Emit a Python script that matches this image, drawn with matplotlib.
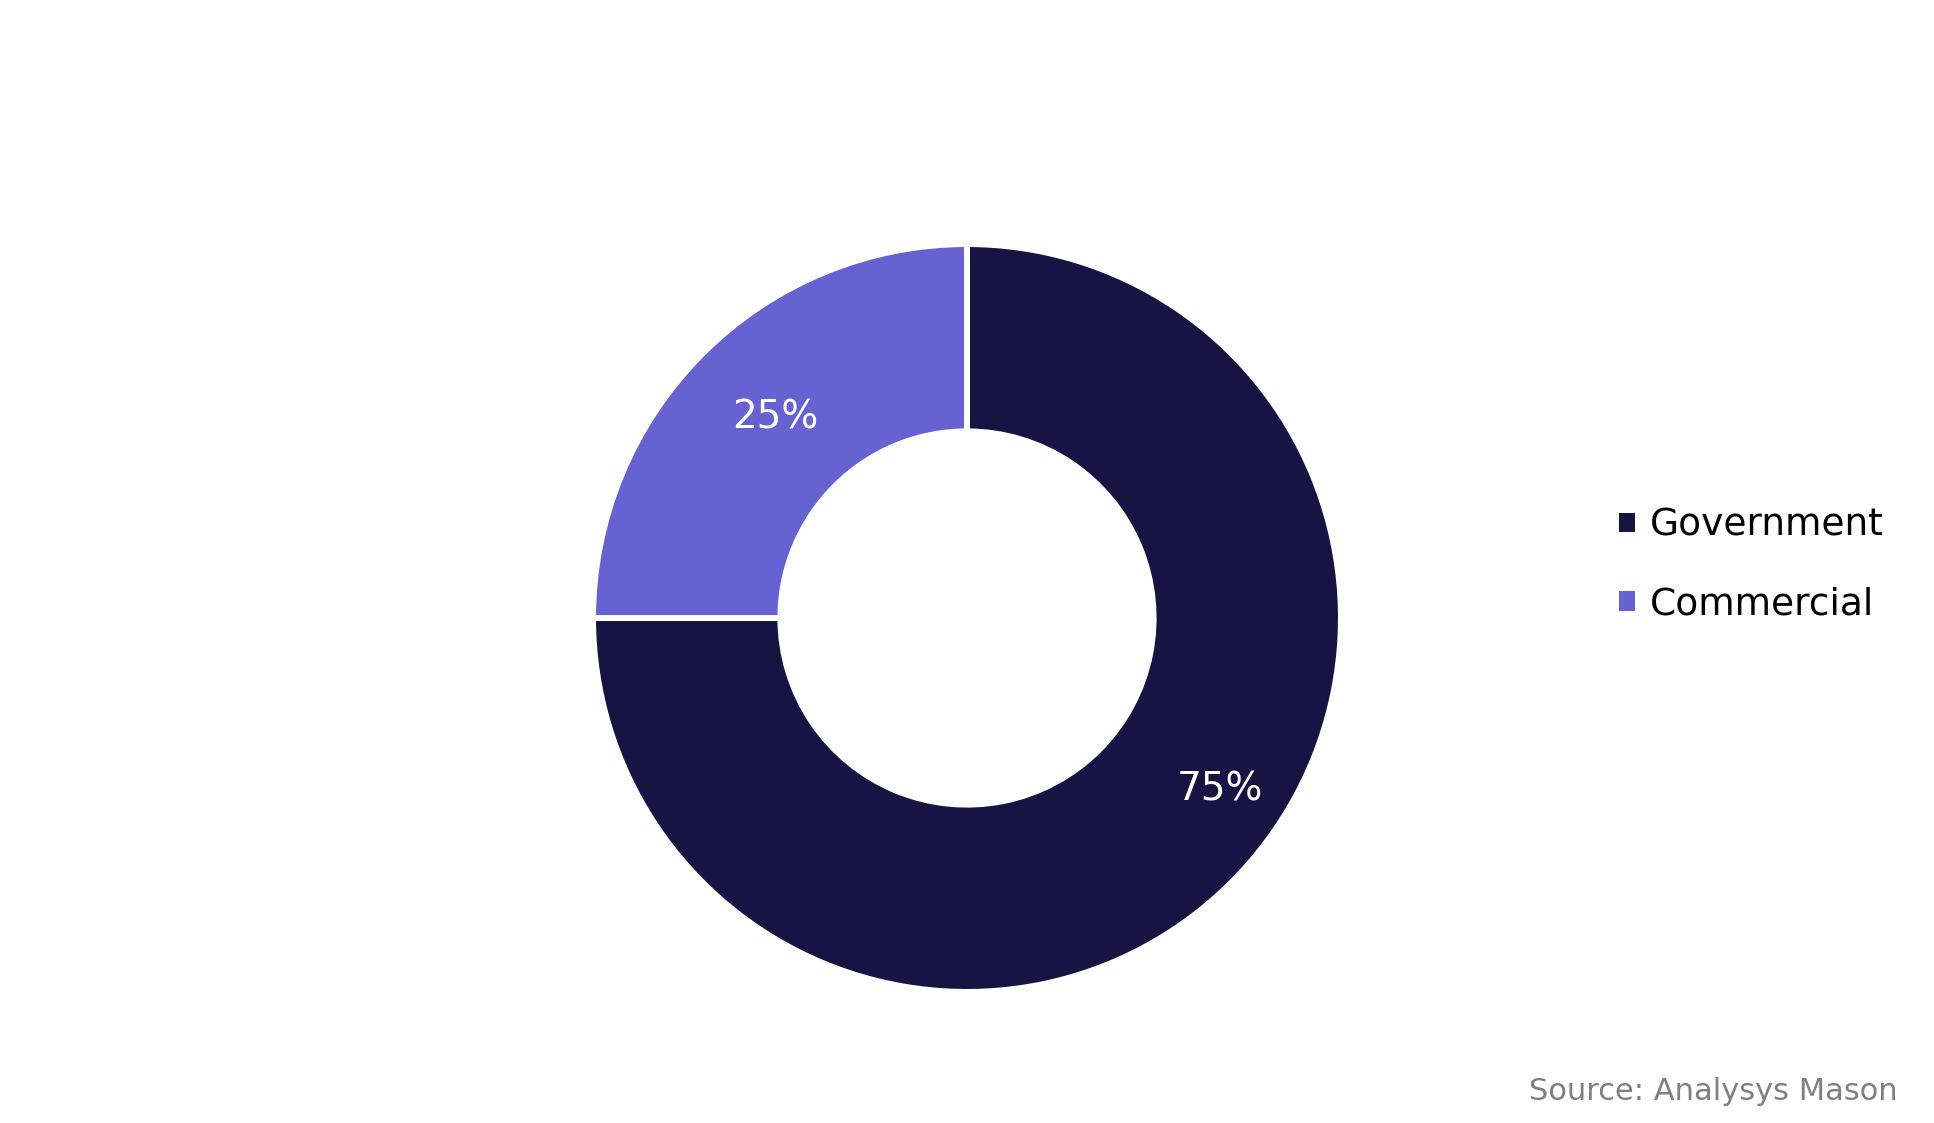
import numpy as np
import matplotlib
matplotlib.use('Agg')
import matplotlib.pyplot as plt
from matplotlib.patches import Patch

plt.rcParams['font.family'] = ['DejaVu Sans']

segments = ['Government', 'Commercial']
shares = [75, 25]
colours = ['#161443', '#6762D2']
# label placement (angle in degrees, radius as fraction of outer radius)
label_angles = [-34.1, 133.7]
label_radii = [0.824, 0.749]

fig = plt.figure(figsize=(19.34, 11.23), dpi=100)
ax = fig.add_axes([596 / 1934, 134 / 1123, 742 / 1934, 742 / 1123])

ax.pie(shares, colors=colours, startangle=90, counterclock=False,
       radius=1.008,
       wedgeprops=dict(width=0.505, edgecolor='white', linewidth=4.3))

for share, ang, r in zip(shares, label_angles, label_radii):
    a = np.deg2rad(ang)
    ax.text(r * np.cos(a), r * np.sin(a), '%d%%' % share, color='white',
            fontsize=28, ha='center', va='center')

ax.set_xlim(-1, 1)
ax.set_ylim(-1, 1)
ax.set_aspect('auto')
ax.axis('off')

handles = [Patch(facecolor=c, edgecolor='none') for c in colours]
fig.legend(handles, segments, loc='center left',
           bbox_to_anchor=(1619 / 1934, 1 - 565 / 1123),
           frameon=False, fontsize=27, handlelength=0.43, handleheight=0.43,
           handletextpad=0.4, labelspacing=1.13, borderaxespad=0,
           borderpad=0)

fig.text(1898 / 1934, 1 - 1091 / 1123, 'Source: Analysys Mason', color='#808080',
         fontsize=22, ha='right', va='center')

fig.savefig('out.png', dpi=100, facecolor='white')
